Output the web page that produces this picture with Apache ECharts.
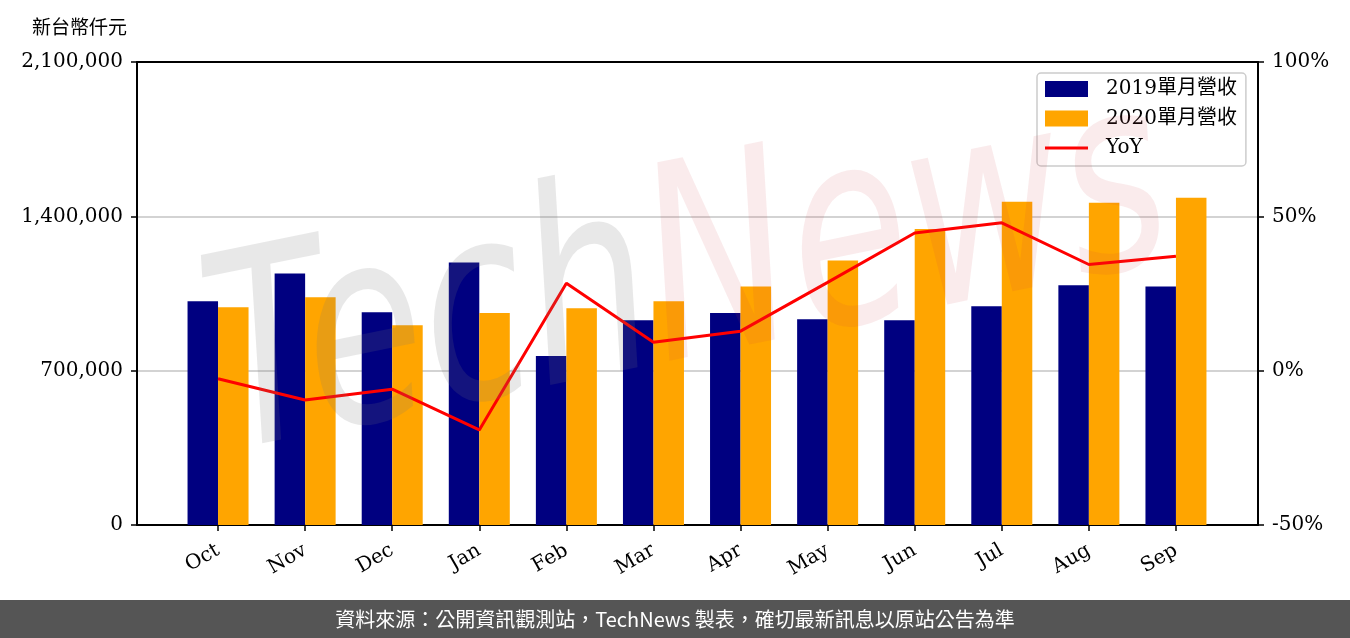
<!DOCTYPE html>
<html>
<head>
<meta charset="utf-8">
<script src="https://cdn.jsdelivr.net/npm/echarts@6/dist/echarts.min.js"></script>
<style>
html,body{margin:0;padding:0;background:#fff;}
#main{width:1350px;height:638px;}
</style>
</head>
<body>
<div id="main"></div>
<script>
const categories = ['Oct','Nov','Dec','Jan','Feb','Mar','Apr','May','Jun','Jul','Aug','Sep'];
const rev2019 = [1015000,1141000,965000,1191000,766000,929000,961000,933000,929000,992000,1087000,1082000];
const rev2020 = [988000,1033000,906000,961000,983000,1015000,1082000,1200000,1343000,1466000,1462000,1484000];
const yoy = [-2.6,-9.5,-6.0,-19.2,28.3,9.2,12.8,28.6,44.6,47.9,34.4,37.1];
const leftTicks = [0,700000,1400000,2100000];
const rightTicks = [-50,0,50,100];

const serif = '"DejaVu Serif","Noto Sans CJK TC",serif';
const frameLine = {show:true, onZero:false, lineStyle:{color:'#000', width:2}};

const chart = echarts.init(document.getElementById('main'), null, {renderer:'canvas'});
const option = {
  animation:false,
  backgroundColor:'#ffffff',
  title:{text:'新台幣仟元', left:27, top:15, textStyle:{fontSize:19, fontWeight:'normal', color:'#000', fontFamily:serif}},
  legend:{
    orient:'vertical', left:1037, top:73,
    itemWidth:43, itemHeight:16, itemGap:9.5,
    padding:[6,9,8,8],
    backgroundColor:'rgba(255,255,255,0.8)',
    borderColor:'#cccccc', borderWidth:1.5, borderRadius:4,
    textStyle:{fontSize:20, fontFamily:serif, color:'#000', lineHeight:20, padding:[0,0,0,13]},
    data:[{name:'2019單月營收', icon:'rect'},{name:'2020單月營收', icon:'rect'},
          {name:'YoY', icon:'path://M0,0H43V3H0Z', itemStyle:{color:'#ff0000'}}]
  },
  grid:[
    {left:137, right:92, top:62, bottom:113},
    {left:174.5, right:130.5, top:62, bottom:113}
  ],
  xAxis:[
    {gridIndex:0, type:'value', min:0, max:1, position:'bottom', axisLine:frameLine, axisTick:{show:false}, axisLabel:{show:false}, splitLine:{show:false}},
    {gridIndex:1, type:'category', data:categories, boundaryGap:true,
     axisLine:{show:false, onZero:false},
     axisTick:{show:true, alignWithLabel:true, length:6, lineStyle:{color:'#000', width:1.5}},
     axisLabel:{rotate:30, margin:24, fontSize:20, fontFamily:serif, color:'#000'}},
    {gridIndex:0, type:'value', min:0, max:1, position:'top', axisLine:frameLine, axisTick:{show:false}, axisLabel:{show:false}, splitLine:{show:false}}
  ],
  yAxis:[
    {gridIndex:0, type:'value', position:'left', min:leftTicks[0], max:leftTicks[leftTicks.length-1], interval:700000,
     axisLine:frameLine, axisTick:{show:true, length:6, lineStyle:{color:'#000', width:1.5}},
     axisLabel:{margin:14, fontSize:20, fontFamily:serif, color:'#000', formatter:v=>v.toLocaleString('en-US')},
     splitLine:{show:true, lineStyle:{color:'#d3d3d3', width:2}}},
    {gridIndex:0, type:'value', position:'right', min:rightTicks[0], max:rightTicks[rightTicks.length-1], interval:50,
     axisLine:frameLine, axisTick:{show:true, length:6, lineStyle:{color:'#000', width:1.5}},
     axisLabel:{margin:14, fontSize:20, fontFamily:serif, color:'#000', formatter:'{value}%'},
     splitLine:{show:false}},
    {gridIndex:1, type:'value', min:0, max:2100000, show:false, axisLine:{onZero:false}, splitLine:{show:false}},
    {gridIndex:1, type:'value', min:-50, max:100, show:false, axisLine:{onZero:false}, splitLine:{show:false}}
  ],
  graphic:[
    {type:'text', x:690, y:285, rotation:0.2, scaleX:0.72, z:100, silent:true,
     style:{text:'{a|Tech}{b|News}', font:'italic 270px "DejaVu Sans"', textAlign:'center', textVerticalAlign:'middle',
       rich:{a:{fill:'rgba(120,120,120,0.17)', font:'italic 270px "DejaVu Sans"'}, b:{fill:'rgba(205,60,70,0.10)', font:'italic 270px "DejaVu Sans"'}}}},
    {type:'rect', shape:{x:0, y:600, width:1350, height:38}, style:{fill:'#555555'}, z:100, silent:true},
    {type:'text', x:675, y:619, z:101, silent:true,
     style:{text:'資料來源：公開資訊觀測站，TechNews 製表，確切最新訊息以原站公告為準', fill:'#ffffff',
       font:'20px "Noto Sans CJK TC"', textAlign:'center', textVerticalAlign:'middle'}}
  ],
  series:[
    {name:'2019單月營收', type:'bar', xAxisIndex:1, yAxisIndex:2, data:rev2019, barWidth:30.5, barGap:'0%',
     itemStyle:{color:'#000080'}},
    {name:'2020單月營收', type:'bar', xAxisIndex:1, yAxisIndex:2, data:rev2020, barWidth:30.5, barGap:'0%',
     itemStyle:{color:'#ffa500'}},
    {name:'YoY', type:'line', xAxisIndex:1, yAxisIndex:3, data:yoy, symbol:'none',
     lineStyle:{color:'#ff0000', width:3}, itemStyle:{color:'#ff0000'}, z:5}
  ]
};
chart.setOption(option);
</script>
</body>
</html>
